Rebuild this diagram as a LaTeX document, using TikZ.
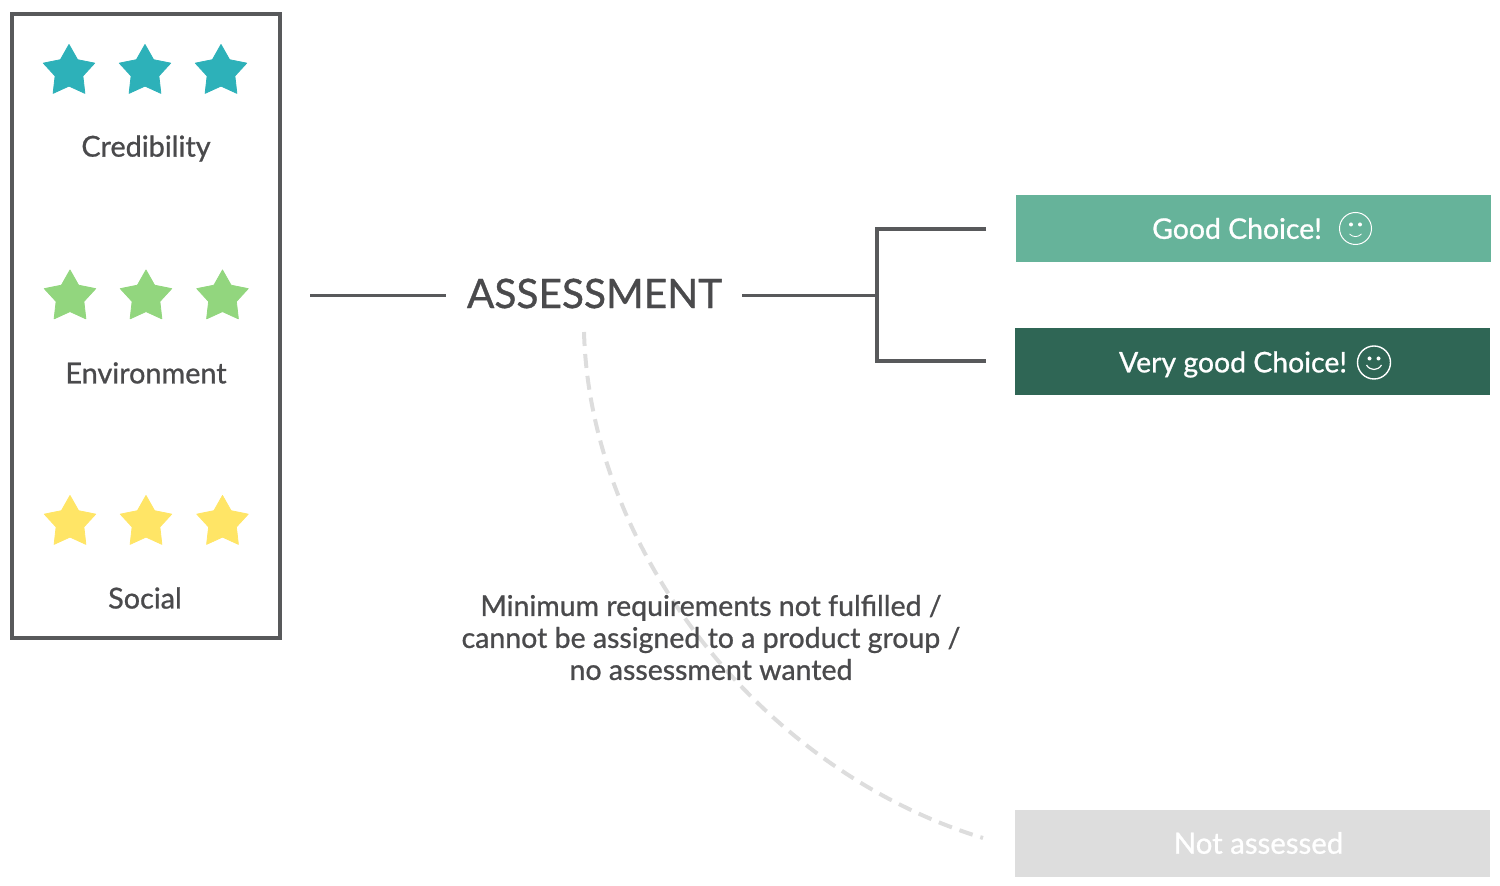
\documentclass[tikz,border=0pt]{standalone}
\usepackage{fontspec}
\setmainfont{Lato}[FakeBold=0.9]
\usetikzlibrary{shapes.geometric}
\definecolor{ink}{HTML}{4A4A4C}
\definecolor{frame}{HTML}{58595B}
\definecolor{tealstar}{HTML}{2DB1B9}
\definecolor{greenstar}{HTML}{92D67E}
\definecolor{yellowstar}{HTML}{FFE566}
\definecolor{goodfill}{HTML}{66B39A}
\definecolor{verygoodfill}{HTML}{2F6655}
\definecolor{nonefill}{HTML}{DDDDDD}
\definecolor{dashgrey}{HTML}{DDDDDD}
\tikzset{
  x=0.5pt,y=-0.5pt,
  starshape/.style={star,star points=5,star point ratio=1.85,minimum size=27pt,inner sep=0pt,outer sep=0pt,fill=#1,draw=#1,line width=.4pt,line join=round},
  catlabel/.style={text=ink,font=\fontsize{14.4}{17}\selectfont,inner sep=0pt},
  banner/.style={minimum width=237.5pt,minimum height=33.4pt,inner sep=0pt,outer sep=0pt,fill=#1},
  bannertext/.style={text=white,font=\fontsize{14.2}{17}\selectfont,inner sep=0pt},
  conn/.style={draw=frame,line width=1.7pt},
  smile/.style={circle,draw=white,minimum size=#1,inner sep=0pt},
}
\begin{document}
\begin{tikzpicture}
\useasboundingbox (0,0) rectangle (1500,886);
\node[draw=frame,line width=2pt,minimum width=134pt,minimum height=312pt,inner sep=0pt,anchor=north west] (box) at (10,12) {};

\foreach \n/\x in {a/69,b/145,c/221}{\node[starshape=tealstar] (t\n) at (\x,71.5) {};}
\foreach \n/\x in {a/70,b/146,c/222.5}{\node[starshape=greenstar] (g\n) at (\x,297) {};}
\foreach \n/\x in {a/70,b/146,c/222.5}{\node[starshape=yellowstar] (y\n) at (\x,522.5) {};}

\node[catlabel] (cred) at (146,148.5) {Credibility};
\node[catlabel] (envi) at (146,373) {Environment};
\node[catlabel] (soci) at (145,598) {Social};

\node[text=ink,font=\fontsize{20.3}{24}\selectfont,inner sep=0pt] (assess) at (594.5,293.5) {ASSESSMENT};

\coordinate (inL) at (310,295.5);
\coordinate (inR) at (446,295.5);
\coordinate (outL) at (742,295.5);
\coordinate (fork) at (877,295.5);
\coordinate (upEnd) at (986,229);
\coordinate (loEnd) at (986,361);
\draw[conn] (inL) -- (inR);
\draw[conn] (outL) -- (fork);
\draw[conn] (upEnd) -| (fork) |- (loEnd);

\coordinate (dashS) at (584,332);
\coordinate (dashE) at (983,838);
\draw[dashgrey,line width=2pt,dash pattern=on 7pt off 4pt] (dashS) .. controls (590,550) and (760,770) .. (dashE);

\node[banner=goodfill,anchor=north west] (good) at (1015.5,195) {};
\node[banner=verygoodfill,anchor=north west] (vgood) at (1015,328) {};
\node[banner=nonefill,anchor=north west] (none) at (1015,810) {};

\node[bannertext] (goodt) at (1237,228.5) {Good Choice!};
\node[bannertext] (vgoodt) at (1233,364.5) {Very good Choice!};
\node[bannertext,font=\fontsize{14.7}{17}\selectfont] (nonet) at (1258.5,843) {Not assessed};

\node[smile=16pt,line width=.5pt] (s1) at (1355.5,228.5) {};
\fill[white] (1351,224.5) circle (1pt) (1360,224.5) circle (1pt);
\draw[white,line width=.4pt] (1349.5,234) .. controls (1353,237.5) and (1358,237.5) .. (1361.5,234);

\node[smile=16.5pt,line width=.7pt] (s2) at (1374,362.5) {};
\fill[white] (1369.5,358.5) circle (1pt) (1378.5,358.5) circle (1pt);
\draw[white,line width=.6pt] (1366.5,365) .. controls (1370,371) and (1378,371) .. (1381.5,365);

\node[text=ink,font=\fontsize{14.25}{16}\selectfont,align=center,inner sep=0pt] (req) at (711,637.5) {Minimum requirements not fulfilled /\\cannot be assigned to a product group /\\no assessment wanted};
\end{tikzpicture}
\end{document}
